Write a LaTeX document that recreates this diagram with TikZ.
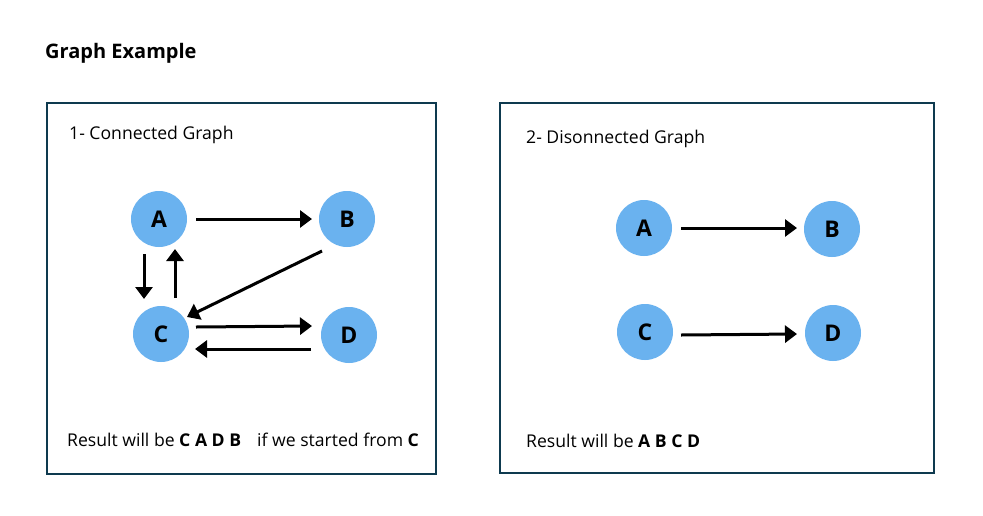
\documentclass[tikz,border=0pt]{standalone}
\usepackage{fontspec}
\setmainfont{Open Sans}
\usetikzlibrary{arrows.meta}
\definecolor{frame}{HTML}{0E3A4F}
\definecolor{vertex}{HTML}{6AB2EF}
\begin{document}
\begin{tikzpicture}[x=1pt,y=-1pt,
  vtx/.style={circle,fill=vertex,minimum size=56pt,inner sep=0pt,font=\fontsize{23}{27}\selectfont\bfseries},
  panel/.style={draw=frame,line width=1.4pt},
  edge/.style={line width=3pt,-{Triangle[length=12pt,width=17pt]}},
  label/.style={anchor=base west,inner sep=0pt,font=\fontsize{17.6}{21}\selectfont}]
\useasboundingbox[fill=white] (0,0) rectangle (983,515);

% title
\node[anchor=base west,inner sep=0pt,font=\fontsize{20}{24}\selectfont\bfseries] (title) at (45,58) {Graph Example};

% panels
\draw[panel] (47,103) rectangle (436,474);
\draw[panel] (500,103) rectangle (934,473);

% connected graph
\node[label] (t1) at (69,139) {1- Connected Graph};
\node[vtx] (a1) at (159,219) {A};
\node[vtx] (b1) at (347,219) {B};
\node[vtx] (c1) at (161,334) {C};
\node[vtx] (d1) at (349,335) {D};
\coordinate (ab1s) at (196,219); \coordinate (ab1e) at (312,219);
\coordinate (ac1s) at (144,254); \coordinate (ac1e) at (144,299);
\coordinate (ca1s) at (175,298); \coordinate (ca1e) at (175,249);
\coordinate (bc1s) at (322,251); \coordinate (bc1e) at (187,317);
\coordinate (cd1s) at (196,327); \coordinate (cd1e) at (312,326);
\coordinate (dc1s) at (311,349); \coordinate (dc1e) at (195,349);
\draw[edge] (ab1s) -- (ab1e);
\draw[edge] (ac1s) -- (ac1e);
\draw[edge] (ca1s) -- (ca1e);
\draw[edge] (bc1s) -- (bc1e);
\draw[edge] (cd1s) -- (cd1e);
\draw[edge] (dc1s) -- (dc1e);
\node[label] (r1) at (67,446) {Result will be \textbf{C A D B}\hspace{16pt}if we started from \textbf{C}};

% disconnected graph
\node[label] (t2) at (526,143) {2- Disonnected Graph};
\node[vtx] (a2) at (644,228) {A};
\node[vtx] (b2) at (832,229) {B};
\node[vtx] (c2) at (645,332) {C};
\node[vtx] (d2) at (833,333) {D};
\coordinate (ab2s) at (681,228); \coordinate (ab2e) at (797,228);
\coordinate (cd2s) at (681,335); \coordinate (cd2e) at (797,334);
\draw[edge] (ab2s) -- (ab2e);
\draw[edge] (cd2s) -- (cd2e);
\node[label] (r2) at (526,447) {Result will be \textbf{A B C D}};
\end{tikzpicture}
\end{document}
